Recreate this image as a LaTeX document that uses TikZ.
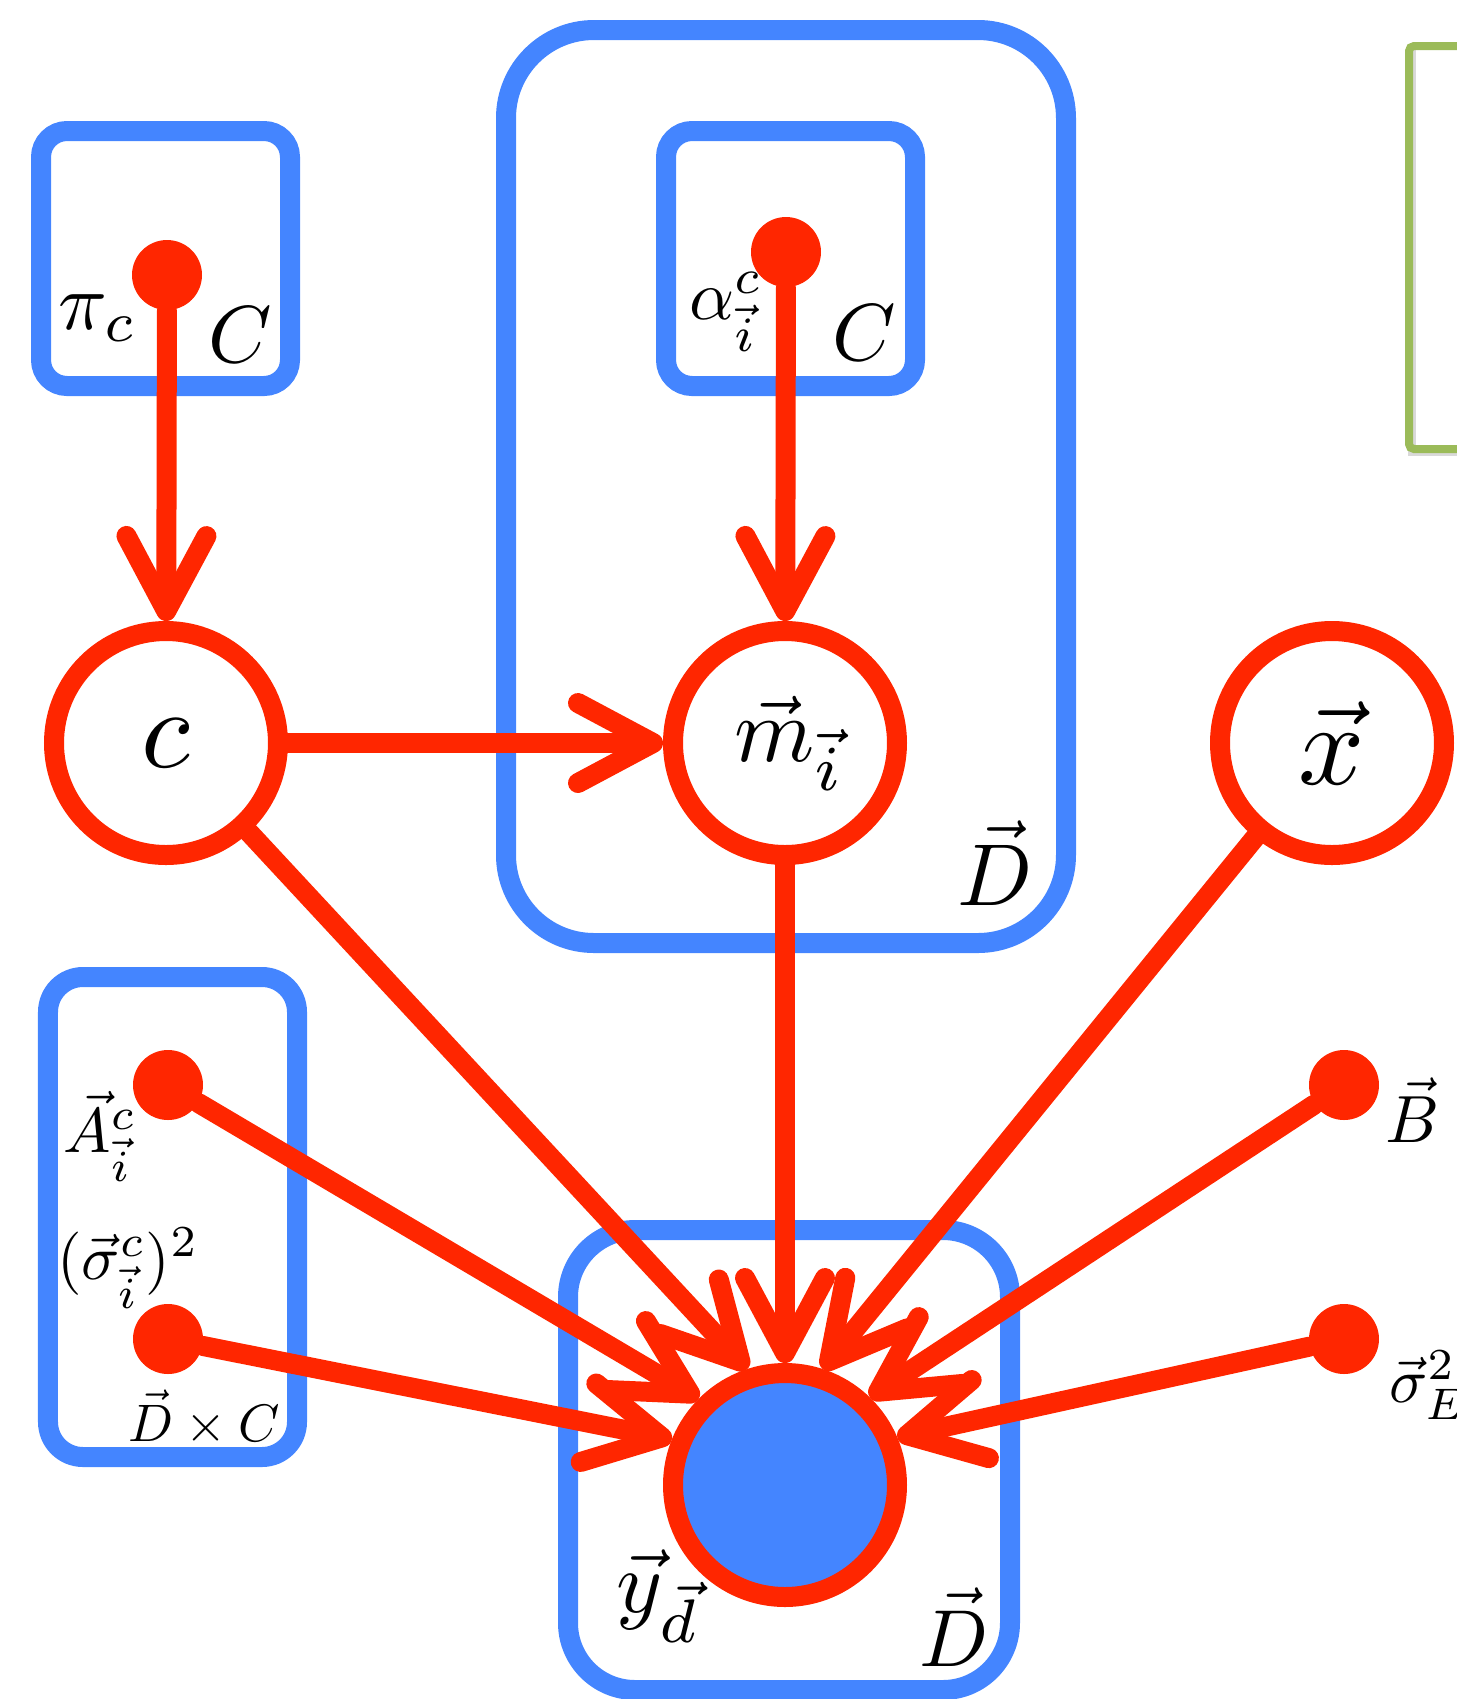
\documentclass[tikz,border=0pt]{standalone}
\usepackage{amssymb,amsmath}
\usepackage{graphicx}
\usetikzlibrary{arrows.meta}
\definecolor{nodered}{RGB}{255,38,0}
\definecolor{plateblue}{RGB}{68,133,255}
\definecolor{boxgreen}{RGB}{155,187,89}

\begin{document}
\begin{tikzpicture}[y = -1cm,
	var/.style = {circle, draw = nodered, line width = 0.2cm, fill = white, minimum size = 2.24cm, inner sep = 0},
	obs/.style = {var, fill = plateblue},
	param/.style = {circle, fill = nodered, minimum size = 0.7cm, inner sep = 0},
	plate/.style = {draw = plateblue, line width = 0.2cm},
	lab/.style = {inner sep = 0, scale = #1},
	link/.style = {draw = nodered, line width = 0.2cm, line cap = round, -{Straight Barb[length = 0.75cm, width = 0.8cm, round]}}]
	\useasboundingbox (0, 0) rectangle (14.57, 16.99);
	\clip (0, 0) rectangle (14.57, 16.99);
%%%%%%%%%%%
	\draw[plate, rounded corners = 0.26cm] (0.41, 1.31) rectangle (2.90, 3.86);
	\draw[plate, rounded corners = 0.88cm] (5.06, 0.30) rectangle (10.66, 9.43);
	\draw[plate, rounded corners = 0.26cm] (6.66, 1.31) rectangle (9.15, 3.86);
	\draw[plate, rounded corners = 0.35cm] (0.48, 9.77) rectangle (2.97, 14.57);
	\draw[plate, rounded corners = 0.67cm] (5.68, 12.30) rectangle (10.10, 16.90);
	\draw[black!15, line width = 0.08cm] (14.12, 0.50) -- (14.12, 4.52) -- (15.5, 4.52);
	\draw[boxgreen, line width = 0.08cm, rounded corners = 0.05cm] (14.09, 0.46) rectangle (15.5, 4.49);
%%%%%%%%%%%
	\node[param] (pi) at (1.67, 2.75) {};
	\node[lab = 2.3] at (0.98, 3.18) {$\pi_c$};
	\node[lab = 2.3] at (2.40, 3.35) {$C$};
	\node[param] (alpha) at (7.86, 2.52) {};
	\node[lab = 2] at (7.26, 3.12) {$\alpha^c_{\vec{i}}$};
	\node[lab = 2.3] at (8.64, 3.33) {$C$};
%%%%%%%%%%%
	\node[var] (c) at (1.66, 7.43) {\scalebox{3.2}{$c$}};
	\node[var] (m) at (7.85, 7.43) {\hspace{0.1cm}\scalebox{2.6}{$\vec{m}_{\vec{i}}$}};
	\node[var] (x) at (13.32, 7.43) {\scalebox{3.3}{$\vec{x}$}};
	\node[lab = 2.5] at (9.95, 8.63) {$\vec{D}$};
%%%%%%%%%%%
	\node[param] (A) at (1.68, 10.85) {};
	\node[lab = 1.8] at (1.00, 11.36) {$\vec{A}^c_{\vec{i}}$};
	\node[param] (sig) at (1.68, 13.39) {};
	\node[lab = 1.8] at (1.28, 12.68) {$(\vec{\sigma}^c_{\vec{i}})^2$};
	\node[lab = 1.5] at (2.04, 14.18) {$\vec{D}\times C$};
	\node[param] (B) at (13.44, 10.85) {};
	\node[lab = 1.9] at (14.12, 11.10) {$\vec{B}$};
	\node[param] (sigB) at (13.44, 13.39) {};
	\node[lab = 1.8, anchor = west] at (13.88, 13.85) {$\vec{\sigma}^2_E$};
%%%%%%%%%%%
	\node[obs] (y) at (7.85, 14.85) {};
	\node[lab = 2.5] at (6.58, 15.96) {$\vec{y}_{\vec{d}}$};
	\node[lab = 2.3] at (9.54, 16.27) {$\vec{D}$};
%%%%%%%%%%%
	\draw[link] (pi) -- (c);
	\draw[link] (alpha) -- (m);
	\draw[link] (c) -- (m);
	\foreach \from/\ang in {c/108, m/90, x/72, A/135, sig/158, B/46, sigB/23}
		\draw[link] (\from) -- (y.\ang);
\end{tikzpicture}
\end{document}
